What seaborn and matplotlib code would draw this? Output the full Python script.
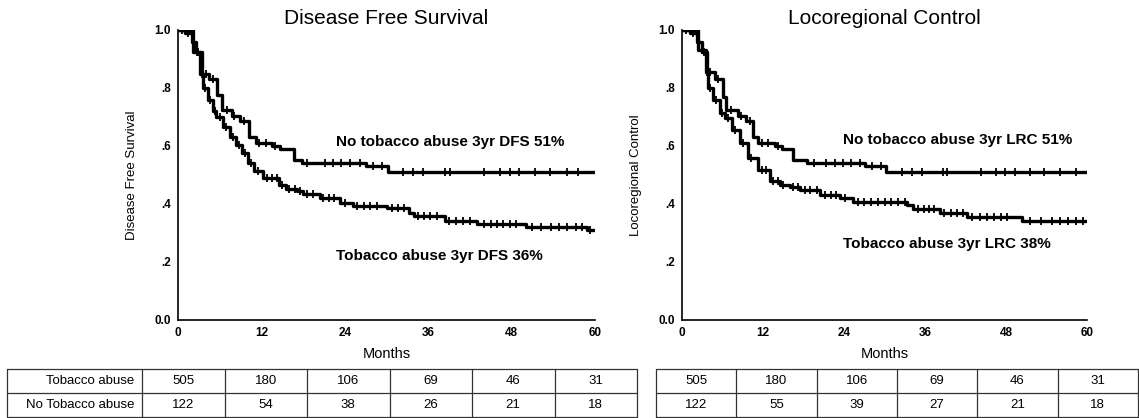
import numpy as np
import pandas as pd
import matplotlib
matplotlib.use("Agg")
import matplotlib.pyplot as plt
import seaborn as sns

sns.set_theme(style="white")
plt.rcParams['font.family'] = ['Liberation Sans', 'DejaVu Sans']
plt.rcParams.update({"text.color": "black", "axes.labelcolor": "black",
                     "xtick.color": "black", "ytick.color": "black"})

# ---------------- data ----------------
months_ticks = [0, 12, 24, 36, 48, 60]
ytick_vals = [0.0, 0.2, 0.4, 0.6, 0.8, 1.0]
ytick_labels = ["0.0", ".2", ".4", ".6", ".8", "1.0"]

# Disease free survival
dfs_no_t = [0, 2.2, 3.4, 4.5, 5.6, 6.4, 7.7, 8.9, 10.2, 11.2, 13.5, 14.7, 16.7, 17.8, 27.0, 30.2, 60]
dfs_no_s = [1.0, 0.925, 0.85, 0.83, 0.775, 0.725, 0.705, 0.685, 0.63, 0.61, 0.60, 0.59, 0.552, 0.54, 0.53, 0.51, 0.51]
dfs_no_cens = [1.2, 2.8, 4.0, 5.0, 7.0, 8.0, 9.5, 11.6, 12.7, 14.0, 18.5, 21.1, 22.3, 23.5, 24.7, 26.2,
               28.1, 29.3, 32.4, 33.8, 35.3, 38.4, 39.1, 44.1, 46.3, 47.7, 49.1, 51.3, 53.5, 55.9, 57.5]

dfs_tob_t = [0, 1.0, 2.0, 2.6, 3.2, 3.6, 4.3, 5.0, 5.5, 6.5, 7.5, 8.4, 9.2, 10.1, 11.0, 12.2, 14.6, 15.6,
             17.1, 18.0, 20.4, 23.3, 25.2, 30.0, 33.3, 34.0, 38.4, 43.0, 50.0, 58.8, 60]
dfs_tob_s = [1.0, 0.99, 0.96, 0.925, 0.85, 0.80, 0.76, 0.72, 0.70, 0.665, 0.63, 0.605, 0.575, 0.54, 0.515,
             0.49, 0.466, 0.452, 0.445, 0.435, 0.42, 0.405, 0.393, 0.386, 0.37, 0.36, 0.34, 0.33, 0.32, 0.31, 0.31]
dfs_tob_cens = [0.6, 1.5, 2.3, 2.9, 3.4, 3.9, 4.6, 5.3, 6.0, 6.9, 7.9, 8.8, 9.6, 10.5, 11.5, 12.8, 13.5,
                14.2, 15.0, 16.0, 16.8, 17.6, 18.6, 19.4, 20.9, 21.7, 22.5, 24.0, 25.8, 26.8, 27.6, 28.6,
                30.8, 31.6, 32.5, 34.6, 35.4, 36.3, 37.2, 39.0, 40.0, 41.0, 42.0, 44.0, 45.0, 45.9, 46.8,
                47.8, 48.7, 51.0, 52.3, 53.6, 54.8, 56.0, 57.2, 58.2, 59.3]

# Locoregional control
lrc_no_t = [0, 2.4, 3.5, 4.9, 6.1, 6.5, 8.3, 9.5, 10.5, 11.3, 13.8, 14.8, 16.4, 18.5, 27.1, 30.2, 60]
lrc_no_s = [1.0, 0.93, 0.855, 0.83, 0.77, 0.725, 0.705, 0.685, 0.63, 0.61, 0.60, 0.59, 0.552, 0.54, 0.53, 0.51, 0.51]
lrc_no_cens = [1.2, 2.9, 4.2, 5.4, 7.3, 8.8, 10.0, 11.8, 12.8, 14.2, 19.5, 21.4, 22.6, 23.8, 25.0, 26.3,
               28.2, 29.5, 32.6, 34.0, 35.5, 38.6, 39.3, 44.3, 46.5, 47.9, 49.3, 51.5, 53.7, 56.0, 58.3]

lrc_tob_t = [0, 1.2, 2.2, 3.0, 3.7, 3.9, 4.6, 5.6, 6.4, 7.4, 8.6, 9.8, 11.3, 13.0, 14.5, 16.0, 17.5, 20.4,
             23.4, 25.3, 33.3, 34.2, 38.2, 42.2, 50.4, 60]
lrc_tob_s = [1.0, 0.99, 0.96, 0.925, 0.85, 0.80, 0.76, 0.715, 0.695, 0.655, 0.61, 0.56, 0.517, 0.48, 0.466,
             0.459, 0.448, 0.43, 0.42, 0.407, 0.397, 0.382, 0.37, 0.356, 0.34, 0.34]
lrc_tob_cens = [0.6, 1.6, 2.5, 3.3, 4.2, 5.0, 5.9, 6.8, 7.8, 9.0, 10.2, 11.8, 12.5, 13.5, 14.2, 15.0,
                16.5, 17.2, 18.2, 19.0, 20.0, 21.2, 22.0, 22.8, 24.2, 26.0, 27.0, 28.0, 29.0, 30.0, 31.0,
                32.0, 33.0, 35.0, 35.8, 36.6, 37.4, 38.8, 39.8, 40.8, 41.6, 43.0, 44.2, 45.2, 46.2, 47.2,
                48.2, 51.5, 53.2, 54.8, 56.0, 57.2, 58.4, 59.4]

row_labels = ["Tobacco abuse", "No Tobacco abuse"]
dfs_risk_tob = [505, 180, 106, 69, 46, 31]
dfs_risk_no = [122, 54, 38, 26, 21, 18]
lrc_risk_tob = [505, 180, 106, 69, 46, 31]
lrc_risk_no = [122, 55, 39, 27, 21, 18]

# ---------------- figure ----------------
W, H = 1139, 418
fig = plt.figure(figsize=(W / 100, H / 100), dpi=100)


def fx(px):
    return px / W


def fy(py):
    return 1 - py / H


def step_at(t, s, c):
    idx = np.searchsorted(t, c, side="right") - 1
    return np.asarray(s)[idx]


def km_panel(ax, curves, title, ylabel, notes):
    for t, s, cens in curves:
        df = pd.DataFrame({"Months": t, "Surv": s})
        sns.lineplot(data=df, x="Months", y="Surv", ax=ax, color="black", lw=2.4,
                     drawstyle="steps-post", estimator=None, sort=False)
        cy = step_at(t, s, cens)
        ax.plot(cens, cy, ls="none", marker="|", ms=6, mew=1.3, color="black")
    ax.set_xlim(0, 60)
    ax.set_ylim(0, 1.0)
    ax.set_xticks(months_ticks)
    ax.set_xticklabels([str(m) for m in months_ticks], fontsize=8.5, fontweight="bold")
    ax.set_yticks(ytick_vals)
    ax.set_yticklabels(ytick_labels, fontsize=8.5, fontweight="bold")
    ax.tick_params(axis="both", direction="out", length=3, width=1.5, color="black", pad=2)
    for side in ["top", "right"]:
        ax.spines[side].set_visible(False)
    for side in ["left", "bottom"]:
        ax.spines[side].set_color("black")
        ax.spines[side].set_linewidth(1.2)
    ax.set_xlabel("Months", fontsize=10.5, labelpad=6)
    ax.set_ylabel(ylabel, fontsize=9.5, labelpad=12)
    ax.set_title(title, fontsize=15, pad=4)
    for (x, y, txt) in notes:
        ax.text(x, y, txt, fontsize=11, fontweight="bold", ha="left", va="center")
    ax.patch.set_alpha(0)


ax1 = fig.add_axes([fx(178), fy(320), fx(595 - 178), (320 - 30) / H])
km_panel(ax1,
         [(dfs_no_t, dfs_no_s, dfs_no_cens), (dfs_tob_t, dfs_tob_s, dfs_tob_cens)],
         "Disease Free Survival", "Disease Free Survival",
         [(22.8, 0.613, "No tobacco abuse 3yr DFS 51%"), (22.7, 0.222, "Tobacco abuse 3yr DFS 36%")])

ax2 = fig.add_axes([fx(682), fy(320), fx(1087 - 682), (320 - 30) / H])
km_panel(ax2,
         [(lrc_no_t, lrc_no_s, lrc_no_cens), (lrc_tob_t, lrc_tob_s, lrc_tob_cens)],
         "Locoregional Control", "Locoregional Control",
         [(23.8, 0.622, "No tobacco abuse 3yr LRC 51%"), (23.8, 0.262, "Tobacco abuse 3yr LRC 38%")])


def risk_table(left_px, right_px, label_w, rows, labels):
    top, bot = 369, 417
    ax = fig.add_axes([fx(left_px), fy(bot), fx(right_px - left_px), (bot - top) / H])
    width = right_px - left_px
    ax.set_xlim(0, width)
    ax.set_ylim(bot - top, 0)
    ax.axis("off")
    ncol = len(rows[0])
    cw = (width - label_w) / ncol
    lc = "#333333"
    rh = (bot - top) / 2
    for y in [0, rh, 2 * rh]:
        ax.plot([0, width], [y, y], color=lc, lw=0.9, clip_on=False)
    xs = [0] + ([label_w] if label_w > 0 else []) + [label_w + cw * (i + 1) for i in range(ncol)]
    for x in xs:
        ax.plot([x, x], [0, 2 * rh], color=lc, lw=0.9, clip_on=False)
    for r, vals in enumerate(rows):
        yc = rh * (r + 0.5)
        if labels is not None:
            ax.text(label_w - 8, yc, labels[r], ha="right", va="center", fontsize=9.5)
        for i, v in enumerate(vals):
            ax.text(label_w + cw * (i + 0.5), yc, str(v), ha="center", va="center", fontsize=9.5)


risk_table(7, 637, 135, [dfs_risk_tob, dfs_risk_no], row_labels)
risk_table(656, 1138, 0, [lrc_risk_tob, lrc_risk_no], None)

fig.savefig("out.png", dpi=100, facecolor="white")
